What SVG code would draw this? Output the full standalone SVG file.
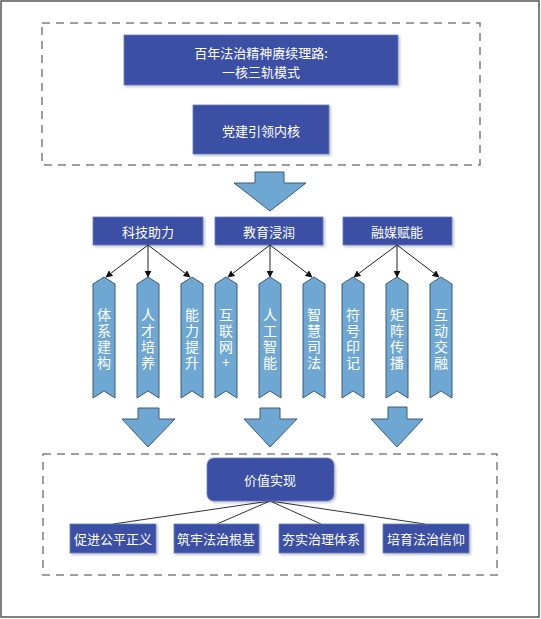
<svg xmlns="http://www.w3.org/2000/svg" width="541" height="619" viewBox="0 0 541 619">
<defs>
<style>
.frame{fill:#fff;stroke:#555;stroke-width:1.5}
.dash{fill:none;stroke:#7f7f7f;stroke-width:1.5;stroke-dasharray:8,6}
.box{fill:#3B4FA4;stroke:#6b7fc0;stroke-width:0.8}
.rib{fill:#6FA7D3;stroke:#3d5b7a;stroke-width:1}
.big{fill:#6FA7D3;stroke:#3d5b7a;stroke-width:1}
.t{font-family:"Noto Sans CJK SC","Liberation Sans",sans-serif;fill:#fff;text-anchor:middle;dominant-baseline:central}
.s13{font-size:13px}
.v{font-family:"Noto Sans CJK SC","Liberation Sans",sans-serif;fill:#fff;font-size:14px;writing-mode:vertical-rl;text-orientation:upright;letter-spacing:2px;text-anchor:middle;dominant-baseline:central}
.con{stroke:#222;stroke-width:1;fill:none}
.ln{stroke:#333;stroke-width:1;fill:none}
</style>
<marker id="ah" viewBox="0 0 10 10" refX="9" refY="5" markerWidth="7" markerHeight="7" orient="auto" markerUnits="userSpaceOnUse">
<path d="M0,0 L10,5 L0,10 z" fill="#111"/>
</marker>
<filter id="sh" x="-10%" y="-10%" width="130%" height="140%">
<feDropShadow dx="1.5" dy="1.5" stdDeviation="1" flood-color="#000" flood-opacity="0.25"/>
</filter>
</defs>
<rect class="frame" x="1" y="1" width="538" height="616"/>
<rect class="dash" x="42" y="23" width="438" height="142"/>
<rect class="dash" x="43" y="454" width="454" height="121"/>

<g id="title">
<rect class="box" x="124" y="35" width="274" height="50" filter="url(#sh)"/>
<text class="t s13" x="261" y="52"><tspan x="261" y="52">百年法治精神赓续理路:</tspan><tspan x="261" y="71">一核三轨模式</tspan></text>
</g>
<g id="core">
<rect class="box" x="193" y="105" width="136" height="49" filter="url(#sh)"/>
<text class="t s13" x="261" y="130">党建引领内核</text>
</g>

<g id="arrow-top"><path class="big" d="M255,172 H284 V183 H306 L270,211 L234,183 H255 Z"/></g>

<g id="cat1"><rect class="box" x="93" y="217" width="110" height="28" filter="url(#sh)"/><text class="t s13" x="148" y="231">科技助力</text></g>
<g id="cat2"><rect class="box" x="215" y="217" width="108" height="28" filter="url(#sh)"/><text class="t s13" x="269" y="231">教育浸润</text></g>
<g id="cat3"><rect class="box" x="343" y="217" width="109" height="28" filter="url(#sh)"/><text class="t s13" x="397" y="231">融媒赋能</text></g>

<g id="connectors">
<line class="con" x1="148" y1="245" x2="106" y2="277" marker-end="url(#ah)"/>
<line class="con" x1="148" y1="245" x2="148" y2="277" marker-end="url(#ah)"/>
<line class="con" x1="148" y1="245" x2="190" y2="277" marker-end="url(#ah)"/>
<line class="con" x1="270" y1="245" x2="228" y2="277" marker-end="url(#ah)"/>
<line class="con" x1="270" y1="245" x2="270" y2="277" marker-end="url(#ah)"/>
<line class="con" x1="270" y1="245" x2="312" y2="277" marker-end="url(#ah)"/>
<line class="con" x1="397" y1="245" x2="354" y2="277" marker-end="url(#ah)"/>
<line class="con" x1="397" y1="245" x2="397" y2="277" marker-end="url(#ah)"/>
<line class="con" x1="397" y1="245" x2="439" y2="277" marker-end="url(#ah)"/>
<line class="ln" x1="270" y1="501" x2="113" y2="524"/>
<line class="ln" x1="270" y1="501" x2="217" y2="524"/>
<line class="ln" x1="270" y1="501" x2="321" y2="524"/>
<line class="ln" x1="270" y1="501" x2="425" y2="524"/>
</g>

<g id="r1"><path class="rib" d="M104,277 L115,284 V398 L104,391 L93,398 V284 Z"/><text class="v" x="104" y="340">体系建构</text></g>
<g id="r2"><path class="rib" d="M148,277 L159,284 V398 L148,391 L137,398 V284 Z"/><text class="v" x="148" y="340">人才培养</text></g>
<g id="r3"><path class="rib" d="M192,277 L203,284 V398 L192,391 L181,398 V284 Z"/><text class="v" x="192" y="340">能力提升</text></g>
<g id="r4"><path class="rib" d="M226,277 L237,284 V398 L226,391 L215,398 V284 Z"/><text class="v" x="226" y="340">互联网+</text></g>
<g id="r5"><path class="rib" d="M270,277 L281,284 V398 L270,391 L259,398 V284 Z"/><text class="v" x="270" y="340">人工智能</text></g>
<g id="r6"><path class="rib" d="M314,277 L325,284 V398 L314,391 L303,398 V284 Z"/><text class="v" x="314" y="340">智慧司法</text></g>
<g id="r7"><path class="rib" d="M353,277 L364,284 V398 L353,391 L342,398 V284 Z"/><text class="v" x="353" y="340">符号印记</text></g>
<g id="r8"><path class="rib" d="M397,277 L408,284 V398 L397,391 L386,398 V284 Z"/><text class="v" x="397" y="340">矩阵传播</text></g>
<g id="r9"><path class="rib" d="M441,277 L452,284 V398 L441,391 L430,398 V284 Z"/><text class="v" x="441" y="340">互动交融</text></g>

<g id="arrow-b1"><path class="big" d="M138,408 H159 V419 H175 L148,447 L122,419 H138 Z"/></g>
<g id="arrow-b2"><path class="big" d="M260,408 H280 V419 H297 L270,447 L244,419 H260 Z"/></g>
<g id="arrow-b3"><path class="big" d="M388,407 H407 V419 H423 L397,447 L371,419 H388 Z"/></g>

<g id="value"><rect class="box" x="207" y="458" width="127" height="43" rx="7" filter="url(#sh)"/><text class="t s13" x="270" y="479">价值实现</text></g>
<g id="v1"><rect class="box" x="70" y="524" width="86" height="29" filter="url(#sh)"/><text class="t s13" x="113" y="538">促进公平正义</text></g>
<g id="v2"><rect class="box" x="174" y="524" width="85" height="29" filter="url(#sh)"/><text class="t s13" x="216" y="538">筑牢法治根基</text></g>
<g id="v3"><rect class="box" x="279" y="524" width="85" height="29" filter="url(#sh)"/><text class="t s13" x="321" y="538">夯实治理体系</text></g>
<g id="v4"><rect class="box" x="383" y="524" width="86" height="29" filter="url(#sh)"/><text class="t s13" x="426" y="538">培育法治信仰</text></g>
</svg>
